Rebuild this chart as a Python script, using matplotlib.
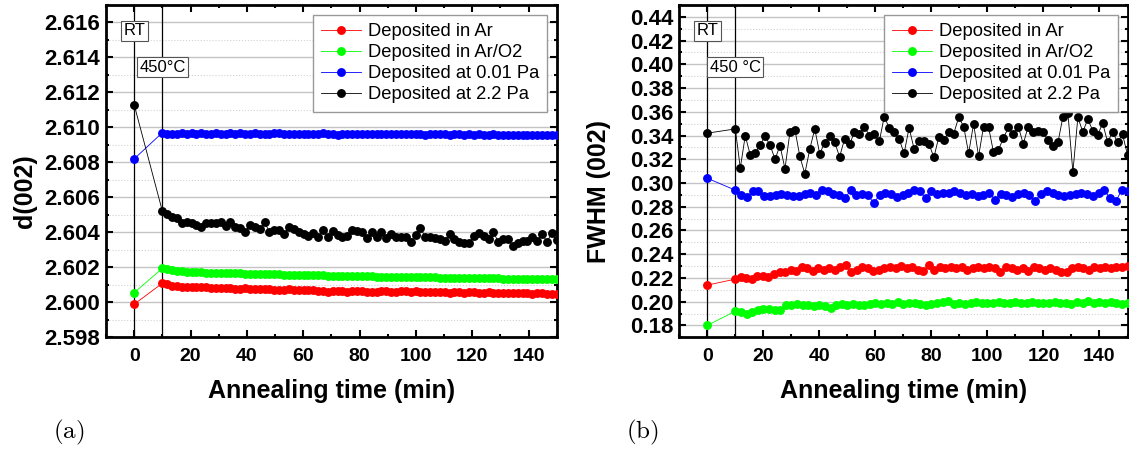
import numpy as np
import matplotlib
matplotlib.use("Agg")
import matplotlib.pyplot as plt
from matplotlib.ticker import MultipleLocator, FormatStrFormatter

plt.rcParams['font.family'] = ['Liberation Sans', 'DejaVu Sans']
plt.rcParams['mathtext.fontset'] = 'cm'

# ---------------- data ----------------
series_labels = ["Deposited in Ar", "Deposited in Ar/O2",
                 "Deposited at 0.01 Pa", "Deposited at 2.2 Pa"]
series_colors = ["#ff0000", "#00ff00", "#0000ff", "#000000"]

# value at room temperature (t = 0)
d_rt = [2.59989, 2.60055, 2.60820, 2.61130]
fwhm_rt = [0.214, 0.180, 0.304, 0.342]

# d(002) during annealing at 450 C (t = 10 ... 150 min)
d_ar = [2.60109, 2.60102, 2.60096, 2.60092, 2.60090, 2.60088, 2.60090, 2.60087, 2.60085, 2.60086,
        2.60083, 2.60084, 2.60081, 2.60080, 2.60082, 2.60079, 2.60078, 2.60080, 2.60077, 2.60078,
        2.60076, 2.60077, 2.60074, 2.60073, 2.60070, 2.60072, 2.60075, 2.60071, 2.60072, 2.60070,
        2.60068, 2.60070, 2.60066, 2.60064, 2.60060, 2.60063, 2.60062, 2.60064, 2.60061, 2.60063,
        2.60066, 2.60064, 2.60061, 2.60058, 2.60060, 2.60062, 2.60063, 2.60060, 2.60061, 2.60064,
        2.60062, 2.60060, 2.60063, 2.60059, 2.60058, 2.60061, 2.60057, 2.60059, 2.60060, 2.60056,
        2.60058, 2.60057, 2.60055, 2.60058, 2.60057, 2.60053, 2.60056, 2.60058, 2.60054, 2.60052,
        2.60055, 2.60056, 2.60053, 2.60051, 2.60054, 2.60053, 2.60050, 2.60052, 2.60054, 2.60049,
        2.60050, 2.60048]
d_aro2 = [2.60194, 2.60188, 2.60184, 2.60181, 2.60178, 2.60176, 2.60174, 2.60172, 2.60172, 2.60170,
          2.60169, 2.60168, 2.60167, 2.60167, 2.60166, 2.60165, 2.60166, 2.60164, 2.60163, 2.60163,
          2.60162, 2.60162, 2.60161, 2.60160, 2.60160, 2.60159, 2.60158, 2.60158, 2.60157, 2.60156,
          2.60155, 2.60155, 2.60154, 2.60154, 2.60153, 2.60152, 2.60153, 2.60151, 2.60150, 2.60150,
          2.60149, 2.60149, 2.60148, 2.60148, 2.60147, 2.60147, 2.60146, 2.60146, 2.60145, 2.60145,
          2.60144, 2.60144, 2.60144, 2.60143, 2.60143, 2.60142, 2.60142, 2.60141, 2.60141, 2.60141,
          2.60140, 2.60140, 2.60139, 2.60139, 2.60139, 2.60138, 2.60138, 2.60137, 2.60137, 2.60137,
          2.60136, 2.60136, 2.60136, 2.60135, 2.60135, 2.60135, 2.60134, 2.60134, 2.60134, 2.60133,
          2.60133, 2.60133]
d_001pa = [2.60970, 2.60962, 2.60960, 2.60964, 2.60966, 2.60962, 2.60968, 2.60965, 2.60970, 2.60964,
           2.60962, 2.60966, 2.60964, 2.60961, 2.60966, 2.60965, 2.60967, 2.60963, 2.60964, 2.60966,
           2.60962, 2.60965, 2.60963, 2.60966, 2.60968, 2.60960, 2.60963, 2.60964, 2.60962, 2.60965,
           2.60963, 2.60962, 2.60964, 2.60966, 2.60963, 2.60961, 2.60959, 2.60962, 2.60963, 2.60961,
           2.60963, 2.60962, 2.60961, 2.60963, 2.60964, 2.60962, 2.60960, 2.60962, 2.60961, 2.60963,
           2.60961, 2.60960, 2.60962, 2.60961, 2.60959, 2.60961, 2.60960, 2.60962, 2.60960, 2.60959,
           2.60961, 2.60960, 2.60958, 2.60960, 2.60959, 2.60961, 2.60958, 2.60959, 2.60960, 2.60957,
           2.60959, 2.60958, 2.60957, 2.60959, 2.60956, 2.60958, 2.60957, 2.60955, 2.60957, 2.60956,
           2.60955, 2.60954]
d_22pa = [2.60522, 2.60505, 2.60486, 2.60480, 2.60451, 2.60461, 2.60455, 2.60442, 2.60429, 2.60451,
          2.60455, 2.60451, 2.60461, 2.60436, 2.60461, 2.60432, 2.60427, 2.60400, 2.60442, 2.60432,
          2.60419, 2.60457, 2.60404, 2.60413, 2.60413, 2.60390, 2.60432, 2.60419, 2.60404, 2.60390,
          2.60381, 2.60394, 2.60371, 2.60413, 2.60375, 2.60410, 2.60385, 2.60375, 2.60379, 2.60413,
          2.60408, 2.60400, 2.60366, 2.60400, 2.60371, 2.60400, 2.60366, 2.60390, 2.60371, 2.60371,
          2.60375, 2.60347, 2.60385, 2.60423, 2.60375, 2.60371, 2.60366, 2.60362, 2.60352, 2.60390,
          2.60360, 2.60343, 2.60341, 2.60337, 2.60381, 2.60398, 2.60379, 2.60360, 2.60400, 2.60347,
          2.60360, 2.60362, 2.60322, 2.60337, 2.60352, 2.60352, 2.60371, 2.60352, 2.60390, 2.60347,
          2.60394, 2.60356]

# FWHM(002) during annealing
fwhm_ar = [0.219, 0.221, 0.220, 0.219, 0.222, 0.222, 0.221, 0.223, 0.225, 0.225,
           0.227, 0.226, 0.229, 0.228, 0.226, 0.228, 0.227, 0.228, 0.227, 0.229,
           0.231, 0.225, 0.227, 0.229, 0.228, 0.226, 0.227, 0.228, 0.229, 0.228,
           0.230, 0.228, 0.229, 0.227, 0.226, 0.231, 0.227, 0.229, 0.228, 0.229,
           0.228, 0.229, 0.227, 0.228, 0.229, 0.228, 0.229, 0.228, 0.225, 0.229,
           0.228, 0.227, 0.228, 0.226, 0.229, 0.228, 0.227, 0.228, 0.227, 0.225,
           0.225, 0.228, 0.229, 0.228, 0.227, 0.229, 0.228, 0.229, 0.228, 0.229,
           0.229, 0.230]
fwhm_aro2 = [0.192, 0.191, 0.190, 0.191, 0.193, 0.194, 0.194, 0.193, 0.193, 0.197,
             0.197, 0.198, 0.197, 0.197, 0.196, 0.197, 0.196, 0.195, 0.197, 0.198,
             0.197, 0.198, 0.197, 0.197, 0.198, 0.199, 0.198, 0.199, 0.198, 0.200,
             0.198, 0.199, 0.199, 0.198, 0.197, 0.198, 0.199, 0.200, 0.201, 0.198,
             0.199, 0.198, 0.199, 0.200, 0.199, 0.199, 0.199, 0.200, 0.199, 0.199,
             0.200, 0.199, 0.199, 0.200, 0.199, 0.199, 0.199, 0.200, 0.199, 0.199,
             0.198, 0.200, 0.199, 0.201, 0.199, 0.200, 0.199, 0.200, 0.199, 0.198,
             0.199]
fwhm_001pa = [0.294, 0.290, 0.288, 0.293, 0.293, 0.289, 0.289, 0.290, 0.291, 0.290,
              0.289, 0.289, 0.291, 0.292, 0.290, 0.294, 0.293, 0.291, 0.290, 0.287,
              0.294, 0.290, 0.291, 0.290, 0.283, 0.290, 0.292, 0.291, 0.288, 0.290,
              0.292, 0.294, 0.293, 0.287, 0.293, 0.291, 0.292, 0.292, 0.293, 0.292,
              0.290, 0.291, 0.289, 0.290, 0.292, 0.286, 0.291, 0.290, 0.288, 0.291,
              0.292, 0.290, 0.285, 0.291, 0.293, 0.292, 0.290, 0.289, 0.290, 0.291,
              0.292, 0.291, 0.289, 0.292, 0.294, 0.287, 0.285, 0.294, 0.293]
fwhm_22pa = [0.3456, 0.3126, 0.3398, 0.3238, 0.3252, 0.3322, 0.3392, 0.3320, 0.3200, 0.3316,
             0.3120, 0.3428, 0.3450, 0.3224, 0.3078, 0.3286, 0.3456, 0.3246, 0.3340, 0.3400,
             0.3347, 0.3220, 0.3370, 0.3325, 0.3430, 0.3414, 0.3476, 0.3400, 0.3410, 0.3350,
             0.3560, 0.3465, 0.3430, 0.3370, 0.3250, 0.3465, 0.3290, 0.3350, 0.3350, 0.3330,
             0.3216, 0.3390, 0.3360, 0.3434, 0.3417, 0.3554, 0.3476, 0.3250, 0.3500, 0.3224,
             0.3476, 0.3476, 0.3260, 0.3280, 0.3378, 0.3468, 0.3410, 0.3476, 0.3330, 0.3476,
             0.3434, 0.3440, 0.3430, 0.3360, 0.3316, 0.3344, 0.3560, 0.3588, 0.3092, 0.3554,
             0.3430, 0.3540, 0.3440, 0.3406, 0.3504, 0.3344, 0.3430, 0.3344, 0.3410, 0.3238]

T_RT = 0.0
T_START, T_END = 10.0, 150.0

d_series = [d_ar, d_aro2, d_001pa, d_22pa]
fwhm_series = [fwhm_ar, fwhm_aro2, fwhm_001pa, fwhm_22pa]

# ---------------- figure ----------------
W, H = 1129, 450
fig = plt.figure(figsize=(W / 100, H / 100), dpi=100)

def fx(px):
    return px / W

def fy(py):
    return 1 - py / H

top_px, bot_px = 5, 337.3
ax1 = fig.add_axes([fx(106), fy(bot_px), fx(556.7) - fx(106), fy(top_px) - fy(bot_px)])
ax2 = fig.add_axes([fx(679.3), fy(bot_px), fx(1127.5) - fx(679.3), fy(top_px) - fy(bot_px)])


def draw(ax, rt_vals, series, ylim, ymaj, ymin, yfmt, ylabel, label_450):
    for i, vals in enumerate(series):
        t = np.linspace(T_START, T_END, len(vals))
        x = np.concatenate([[T_RT], t])
        y = np.concatenate([[rt_vals[i]], vals])
        ax.plot(x, y, '-', color=series_colors[i], lw=0.6, marker='o',
                markersize=6.4, markeredgewidth=0, label=series_labels[i],
                zorder=3, clip_on=True)
    ax.axvline(T_RT, color='black', lw=0.9, zorder=2)
    ax.axvline(T_START, color='black', lw=0.9, zorder=2)
    ax.set_xlim(-10, 150)
    ax.set_ylim(*ylim)
    ax.xaxis.set_major_locator(MultipleLocator(20))
    ax.xaxis.set_minor_locator(MultipleLocator(10))
    ax.yaxis.set_major_locator(MultipleLocator(ymaj))
    ax.yaxis.set_minor_locator(MultipleLocator(ymin))
    ax.yaxis.set_major_formatter(FormatStrFormatter(yfmt))
    ax.grid(True, which='major', axis='y', color='#c4c4c4', lw=1.0, zorder=0)
    ax.grid(True, which='minor', axis='y', color='#d2d2d2', lw=0.8, ls=':', zorder=0)
    ax.set_axisbelow(True)
    for s in ax.spines.values():
        s.set_linewidth(2.0)
    ax.tick_params(which='both', direction='in', top=True, right=True, width=1.5)
    ax.tick_params(which='major', length=5)
    ax.tick_params(which='minor', length=2.5)
    ax.tick_params(axis='x', which='major', labelsize=14, pad=8)
    ax.tick_params(axis='y', which='major', labelsize=16, pad=4)
    for lab in ax.get_xticklabels() + ax.get_yticklabels():
        lab.set_fontweight('bold')
    ax.set_xlabel('Annealing time (min)', fontsize=18, fontweight='bold')
    ax.xaxis.set_label_coords(0.5, -0.125)
    ax.set_ylabel(ylabel, fontsize=18, fontweight='bold', va='center')
    ax.yaxis.set_label_coords(-0.18, 0.44)
    bbox = dict(boxstyle='square,pad=0.15', fc='white', ec='#555555', lw=0.8)
    ax.text(T_RT, 0.923, 'RT', transform=ax.get_xaxis_transform(), ha='center', va='center',
            fontsize=12, bbox=bbox, zorder=4)
    ax.text(T_START, 0.813, label_450, transform=ax.get_xaxis_transform(), ha='center',
            va='center', fontsize=12, bbox=bbox, zorder=4)
    leg = ax.legend(loc='upper right', bbox_to_anchor=(0.979, 0.970), borderaxespad=0,
                    fontsize=13.2, frameon=True, fancybox=False, framealpha=1,
                    edgecolor='#999999', handlelength=2.2, handletextpad=0.35,
                    labelspacing=0.22, borderpad=0.45)
    leg.get_frame().set_linewidth(1.0)
    leg.set_zorder(5)


draw(ax1, d_rt, d_series, (2.598, 2.617), 0.002, 0.001, '%.3f', 'd(002)', '450°C')
draw(ax2, fwhm_rt, fwhm_series, (0.17, 0.45), 0.02, 0.01, '%.2f', 'FWHM (002)', '450 °C')

fig.text(fx(69), fy(432), r'$\mathrm{(a)}$', fontsize=18, ha='center', va='center')
fig.text(fx(642), fy(432), r'$\mathrm{(b)}$', fontsize=18, ha='center', va='center')

fig.savefig('out.png', dpi=100)
